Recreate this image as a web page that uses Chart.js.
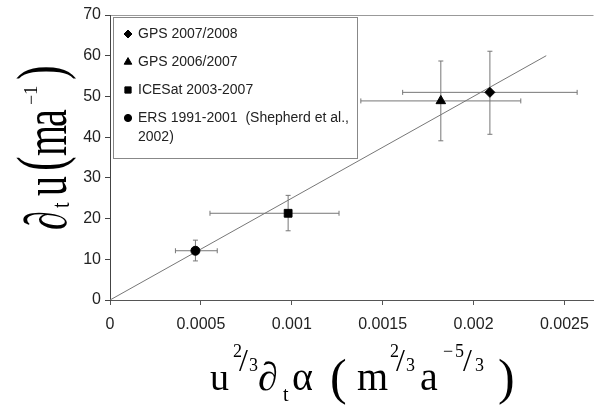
<!DOCTYPE html>
<html>
<head>
<meta charset="utf-8">
<script src="https://cdn.jsdelivr.net/npm/chart.js"></script>
<style>
  html, body { margin: 0; background: #fff; overflow: hidden; }
  #wrap { width: 600px; height: 405px; }
  canvas { display: block; }
</style>
</head>
<body>
<div id="wrap"><canvas id="myChart" width="600" height="405"></canvas></div>
<script>
// series (legend order)
const seriesNames = [
    ['GPS 2007/2008'],
    ['GPS 2006/2007'],
    ['ICESat 2003-2007'],
    ['ERS 1991-2001  (Shepherd et al.,', '2002)']
];
const seriesShapes = ['rectRot', 'triangle', 'rect', 'circle'];
const seriesSizes = [5, 5.5, 5.5, 4.5];

// values
const xValues   = [0.00209, 0.00182, 0.00098, 0.00047];
const yValues   = [51.0, 48.9, 21.3, 12.1];
const xErrLow   = [0.00161, 0.00138, 0.00055, 0.00036];
const xErrHigh  = [0.00257, 0.00226, 0.00126, 0.00059];
const yErrLow   = [40.7, 39.1, 17.0, 9.6];
const yErrHigh  = [61.1, 58.7, 25.7, 14.7];

// fitted line
const fitX = [0, 0.0024];
const fitY = [0, 60];

// axes
const xMin = 0, xMax = 0.00266, xStep = 0.0005;
const yMin = 0, yMax = 70, yStep = 10;

const serif = '"Liberation Serif", "Times New Roman", serif';

let datasets = seriesNames.map((name, i) => ({
    type: 'scatter',
    label: name,
    data: [{x: xValues[i], y: yValues[i]}],
    errX: [xErrLow[i], xErrHigh[i]],
    errY: [yErrLow[i], yErrHigh[i]],
    pointStyle: seriesShapes[i],
    pointRadius: seriesSizes[i],
    backgroundColor: '#000',
    borderColor: '#000',
    borderWidth: 1
}));
datasets.push({
    type: 'line',
    label: 'fit',
    inLegend: false,
    data: fitX.map((x, i) => ({x: x, y: fitY[i]})),
    borderColor: '#777',
    borderWidth: 1,
    pointRadius: 0,
    fill: false
});

// error bars, under the markers
const errorBars = {
    id: 'errorBars',
    beforeDatasetsDraw(chart) {
        const ctx = chart.ctx, xs = chart.scales.x, ys = chart.scales.y;
        const cap = 2.5;
        ctx.save();
        ctx.strokeStyle = '#777';
        ctx.lineWidth = 1;
        chart.data.datasets.forEach(ds => {
            if (!ds.errX) return;
            const p = ds.data[0];
            const px = xs.getPixelForValue(p.x), py = ys.getPixelForValue(p.y);
            const x1 = xs.getPixelForValue(ds.errX[0]), x2 = xs.getPixelForValue(ds.errX[1]);
            const y1 = ys.getPixelForValue(ds.errY[0]), y2 = ys.getPixelForValue(ds.errY[1]);
            ctx.beginPath();
            ctx.moveTo(x1, py); ctx.lineTo(x2, py);
            ctx.moveTo(x1, py - cap); ctx.lineTo(x1, py + cap);
            ctx.moveTo(x2, py - cap); ctx.lineTo(x2, py + cap);
            ctx.moveTo(px, y1); ctx.lineTo(px, y2);
            ctx.moveTo(px - cap, y1); ctx.lineTo(px + cap, y1);
            ctx.moveTo(px - cap, y2); ctx.lineTo(px + cap, y2);
            ctx.stroke();
        });
        ctx.restore();
    }
};

// boxed legend in the top-left corner of the plot
const boxLegend = {
    id: 'boxLegend',
    afterDraw(chart) {
        const ctx = chart.ctx, a = chart.chartArea;
        const bx = a.left + 3.5, by = a.top + 2.5, bw = 244, bh = 141;
        ctx.save();
        ctx.fillStyle = '#fff';
        ctx.fillRect(bx, by, bw, bh);
        ctx.strokeStyle = '#888';
        ctx.lineWidth = 1;
        ctx.strokeRect(bx, by, bw, bh);
        ctx.font = '14px "Liberation Sans", Arial, sans-serif';
        ctx.textBaseline = 'middle';
        ctx.textAlign = 'left';
        let y = by + 16.5;
        chart.data.datasets.forEach(ds => {
            if (ds.inLegend === false) return;
            ctx.fillStyle = '#000';
            ctx.strokeStyle = '#000';
            Chart.helpers.drawPoint(ctx, {
                pointStyle: ds.pointStyle, radius: ds.pointRadius * 0.8,
                rotation: 0, borderWidth: 1
            }, bx + 14.5, y);
            ctx.fillStyle = '#222';
            ds.label.forEach((line, k) => ctx.fillText(line, bx + 24.5, y + k * 19));
            y += 28;
        });
        ctx.restore();
    }
};

function put(ctx, t, x, y, size, sy) {
    ctx.save();
    ctx.translate(x, y);
    ctx.scale(1, sy || 1);
    ctx.font = size + 'px ' + serif;
    ctx.fillText(t, 0, 0);
    ctx.restore();
}

// axis titles in math notation
const mathTitles = {
    id: 'mathTitles',
    afterDraw(chart) {
        const ctx = chart.ctx;
        ctx.save();
        ctx.fillStyle = '#000';
        ctx.textBaseline = 'alphabetic';
        ctx.textAlign = 'left';

        // y title, read bottom to top
        ctx.save();
        ctx.translate(66, 232);
        ctx.rotate(-Math.PI / 2);
        put(ctx, '\u2202', 2, 0, 38, 1.55);
        put(ctx, 't', 24, 3, 20, 1.3);
        put(ctx, 'u', 36, 0, 40, 1.55);
        put(ctx, '(', 61, -4, 44, 1.5);
        put(ctx, 'm', 76, 0, 40, 1.55);
        put(ctx, 'a', 105, 0, 40, 1.55);
        put(ctx, '\u22121', 127, -29, 18, 1);
        put(ctx, ')', 152, -4, 44, 1.5);
        ctx.restore();

        // x title
        ctx.save();
        ctx.translate(210, 390);
        put(ctx, 'u', 0, 0, 38);
        put(ctx, '2', 23, -33, 18);
        put(ctx, '/', 29, -19, 32);
        put(ctx, '3', 39, -19, 18);
        put(ctx, '\u2202', 48, 0, 40);
        put(ctx, 't', 73, 11, 20);
        put(ctx, '\u03b1', 82, 0, 40);
        put(ctx, '(', 120, 4, 50);
        put(ctx, 'm', 147, 0, 40);
        put(ctx, '2', 180, -33, 18);
        put(ctx, '/', 186, -19, 32);
        put(ctx, '3', 196, -19, 18);
        put(ctx, 'a', 210, 0, 40);
        put(ctx, '\u2212', 233, -33, 18);
        put(ctx, '5', 245, -33, 18);
        put(ctx, '/', 253, -19, 32);
        put(ctx, '3', 265, -19, 18);
        put(ctx, ')', 288, 4, 50);
        ctx.restore();

        ctx.restore();
    }
};

const tickFont = {family: '"Liberation Sans", Arial, sans-serif', size: 16};

const ctx = document.getElementById('myChart').getContext('2d');
const myChart = new Chart(ctx, {
    data: { datasets: datasets },
    options: {
        responsive: false,
        animation: false,
        devicePixelRatio: 1,
        layout: { padding: { top: 15, right: 0, left: 0, bottom: 0 } },
        plugins: {
            legend: { display: false },
            tooltip: { enabled: false }
        },
        scales: {
            x: {
                type: 'linear',
                min: xMin, max: xMax,
                ticks: {
                    stepSize: xStep, includeBounds: false,
                    color: '#222', font: tickFont, padding: 10,
                    callback: v => String(Number(v.toFixed(4)))
                },
                grid: { drawOnChartArea: false, tickLength: 5, tickColor: '#555' },
                border: { color: '#555', width: 1 },
                afterFit: s => { s.height = 105; }
            },
            y: {
                type: 'linear',
                min: yMin, max: yMax,
                ticks: { stepSize: yStep, color: '#222', font: tickFont, padding: 4 },
                grid: {
                    tickLength: 5, tickColor: '#444',
                    color: c => (c.tick && c.tick.value === yMax) ? '#999' : 'rgba(0,0,0,0)'
                },
                border: { color: '#444', width: 1 },
                afterFit: s => { s.width = 110; }
            }
        }
    },
    plugins: [errorBars, boxLegend, mathTitles]
});
</script>
</body>
</html>
